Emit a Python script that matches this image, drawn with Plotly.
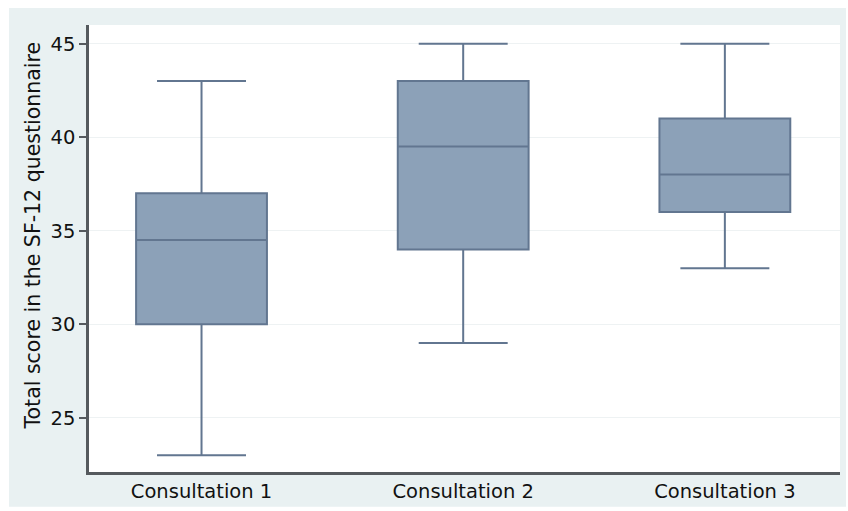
import plotly.graph_objects as go

# Summary statistics of the SF-12 total score per consultation
categories = ["Consultation 1", "Consultation 2", "Consultation 3"]
lower_whisker = [23, 29, 33]
q1 = [30, 34, 36]
median = [34.5, 39.5, 38]
q3 = [37, 43, 41]
upper_whisker = [43, 45, 45]
y_ticks = [25, 30, 35, 40, 45]
y_title = "Total score in the SF-12 questionnaire"

FONT = "DejaVu Sans"
OUTER_BG = "#E9F1F2"
BOX_FILL = "#8CA1B8"
BOX_LINE = "#627690"
AXIS_COLOR = "#555A5E"

fig = go.Figure()
fig.add_trace(go.Box(
    x=categories,
    q1=q1,
    median=median,
    q3=q3,
    lowerfence=lower_whisker,
    upperfence=upper_whisker,
    fillcolor=BOX_FILL,
    line=dict(color=BOX_LINE, width=2),
    whiskerwidth=0.68,
    boxpoints=False,
    showlegend=False,
    hoverinfo="skip",
))

fig.update_layout(
    width=848,
    height=511,
    margin=dict(l=89, r=8, t=25, b=37),
    paper_bgcolor="white",
    plot_bgcolor="white",
    boxgap=0.5,
    boxgroupgap=0,
    font=dict(family=FONT, size=19.5, color="#111111"),
    shapes=[
        # tinted frame around the plotting region
        dict(type="rect", xref="paper", yref="paper", layer="below",
             x0=-80 / 751, x1=1 + 6 / 751, y0=-35 / 449, y1=1 + 17 / 449,
             fillcolor=OUTER_BG, line=dict(width=0)),
        dict(type="rect", xref="paper", yref="paper", layer="below",
             x0=0, x1=1, y0=0, y1=1,
             fillcolor="white", line=dict(width=0)),
    ],
    annotations=[
        dict(text=y_title, textangle=-90, xref="paper", yref="paper",
             x=-56.5 / 751, y=0.528, xanchor="center", yanchor="middle",
             showarrow=False, font=dict(size=20.5, family=FONT, color="#111111")),
    ],
)

fig.update_xaxes(
    range=[-0.43, 2.44],
    showline=True, linecolor=AXIS_COLOR, linewidth=2.5,
    ticks="", showgrid=False, zeroline=False,
    tickfont=dict(size=19.5, family=FONT),
)
fig.update_yaxes(
    range=[22.1, 46],
    tickvals=y_ticks,
    showline=True, linecolor=AXIS_COLOR, linewidth=2.5,
    ticks="outside", ticklen=7, tickwidth=1.5, tickcolor=AXIS_COLOR,
    showgrid=True, gridcolor="#EEF2F3", gridwidth=1,
    zeroline=False,
    tickfont=dict(size=19.5, family=FONT),
)

fig.write_html("out.html")
